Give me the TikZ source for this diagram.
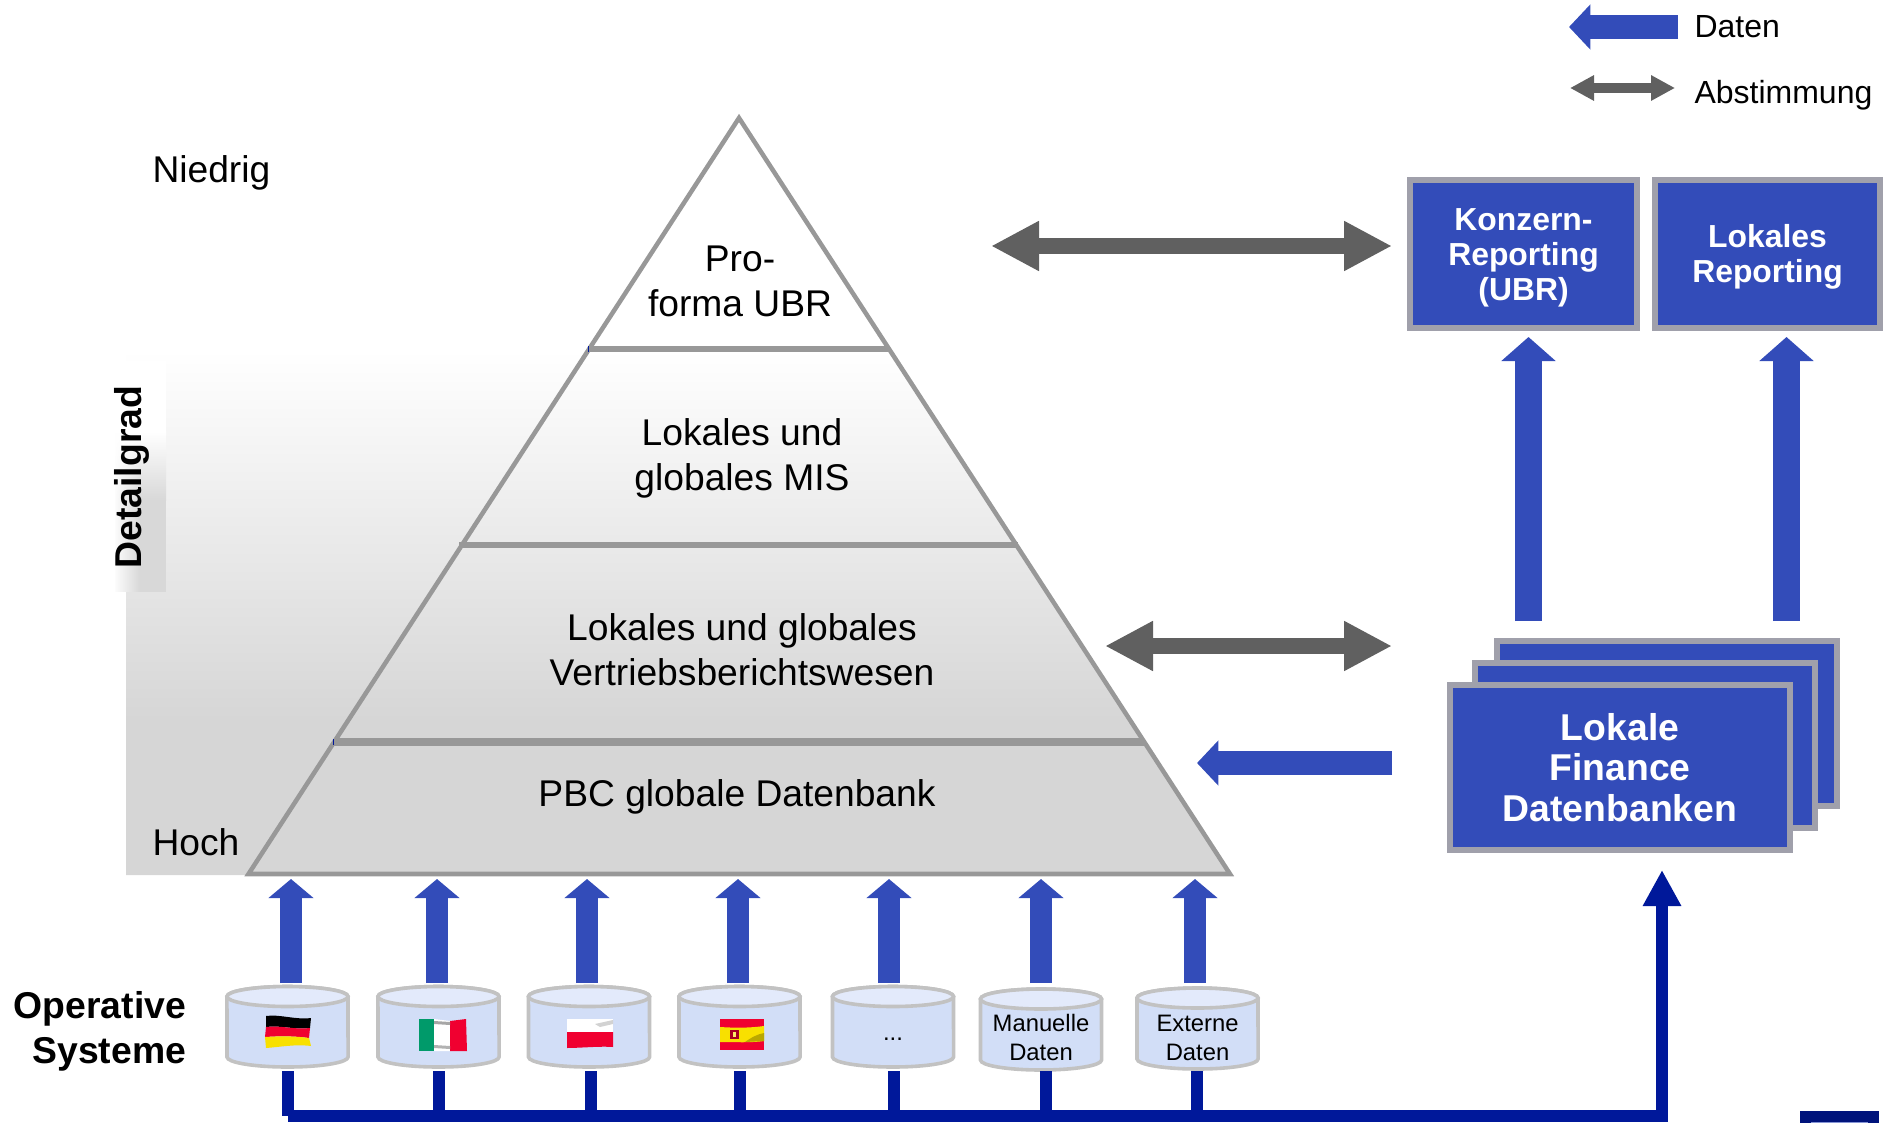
\documentclass[tikz,border=0pt]{standalone}
\usepackage{fontspec}
\setmainfont{Liberation Sans}
\usetikzlibrary{arrows.meta,fadings}
\definecolor{boxblue}{HTML}{334CB9}
\definecolor{boxgray}{HTML}{A0A0AB}
\definecolor{navyline}{HTML}{00189A}
\definecolor{arrowgray}{HTML}{606060}
\definecolor{pyrline}{HTML}{989898}
\definecolor{pyrfill}{HTML}{D6D6D6}
\definecolor{cylbody}{HTML}{D2DEF7}
\definecolor{cyltop}{HTML}{E3EAFB}
\definecolor{cylline}{HTML}{C2C2C2}
\definecolor{flagred}{HTML}{F00030}
\definecolor{flaggreen}{HTML}{009A6A}
\definecolor{flagyellow}{HTML}{F8E000}
\newcommand\topstrut[1]{\rule{0pt}{#1}}
\tikzset{
  bigfont/.style={font=\fontsize{27.9pt}{33.75pt}\selectfont},
  legendfont/.style={font=\fontsize{24pt}{28pt}\selectfont},
  tinyfont/.style={font=\fontsize{17.85pt}{21.75pt}\selectfont},
  txt/.style={inner sep=0pt,outer sep=0pt,align=center},
  repbox/.style={draw=boxgray,fill=boxblue,line width=4.5pt,text=white,align=center,inner sep=0pt,
    font=\fontsize{23.9pt}{26.3pt}\selectfont\bfseries},
  stackbox/.style={repbox,minimum width=340*.75pt,minimum height=165*.75pt,
    font=\fontsize{28pt}{30.4pt}\selectfont\bfseries},
  dataarrow/.style={draw=boxblue,line width=16.5pt,-{Triangle[length=14.25pt,width=33pt]}},
  stackarrow/.style={draw=boxblue,line width=20pt,-{Triangle[length=18pt,width=39.75pt]}},
  leftarrow/.style={draw=boxblue,line width=18pt,-{Triangle[length=16pt,width=33pt]}},
  syncarrow/.style={draw=arrowgray,line width=12pt,{Triangle[length=36pt,width=35pt]}-{Triangle[length=36pt,width=35pt]}},
  smallsync/.style={draw=arrowgray,line width=7pt,{Triangle[length=18pt,width=18pt]}-{Triangle[length=18pt,width=18pt]}},
  feed/.style={draw=navyline,line width=9pt},
}
% name, centre x, top y, bottom y, text y, text
\newcommand\dbcyl[6]{%
  \draw[cylline,line width=2.7pt,fill=cylbody]
    (#2-60.5,#4-10) arc[start angle=180,end angle=360,x radius=45.4pt,y radius=7.5pt]
    -- (#2+60.5,#3+10) arc[start angle=0,end angle=180,x radius=45.4pt,y radius=7.5pt] -- cycle;
  \draw[cylline,line width=2.7pt,fill=cyltop] (#2,#3+10) ellipse[x radius=45.4pt,y radius=7.5pt];
  \node[txt,tinyfont] (#1) at (#2,#5) {#6};
}
\begin{document}
\begin{tikzpicture}[x=.75pt,y=-.75pt]
\useasboundingbox (0,0) rectangle (1887,1123);
% gradient field behind the pyramid
\shade[top color=white,bottom color=pyrfill] (126,350) -- (889,350) -- (1130,720) -- (126,720) -- cycle;
\fill[pyrfill] (126,719.5) -- (1130,719.5) -- (1230,875) -- (126,875) -- cycle;
% lighter panel behind the vertical label
\fill[white] (115,361) rectangle (166,432);
\shade[top color=white,bottom color=pyrfill!95!white] (115,431.5) rectangle (166,500);
\fill[pyrfill!95!white] (115,499.5) rectangle (166,592);
\fill[white,path fading=east] (113,361) rectangle (140,592);
% pyramid
\draw[pyrline,line width=3.4pt,line join=miter] (739,118) -- (1230,874) -- (248.5,874) -- cycle;
\draw[pyrline,line width=4.2pt] (589,349) -- (890,349);
\draw[pyrline,line width=4.8pt] (459,545) -- (1018,545);
\draw[pyrline,line width=5.6pt] (334,742) -- (1144,742);
\fill[navyline] (587.5,346) rectangle (589,352);
\fill[navyline] (332.5,739) rectangle (334,745);
% pyramid texts
\node[txt,bigfont,anchor=base] (proforma) at (740,316) {Pro-\\forma UBR};
\node[txt,bigfont,anchor=base] (mis) at (742,490) {Lokales und\\globales MIS};
\node[txt,bigfont,anchor=base] (vertrieb) at (742,685) {Lokales und globales\\Vertriebsberichtswesen};
\node[txt,bigfont,anchor=base] (pbc) at (737,806) {PBC globale Datenbank};
\node[txt,bigfont,anchor=base west] (niedrig) at (152.5,183) {Niedrig};
\node[txt,bigfont,anchor=base west] (hoch) at (152.5,855) {Hoch};
\node[txt,anchor=base,rotate=90,font=\fontsize{28pt}{33.75pt}\selectfont\bfseries] (detail) at (141,477) {Detailgrad};
\node[txt,anchor=base east,align=right,font=\fontsize{28pt}{33.4pt}\selectfont\bfseries] (opsys) at (186,1063) {Operative\\Systeme};
% reporting boxes
\node[repbox,minimum width=227*.75pt,minimum height=148*.75pt] (ubr) at (1523.5,254) {\topstrut{21.7pt}Konzern-\\Reporting\\(UBR)};
\node[repbox,minimum width=225*.75pt,minimum height=148*.75pt] (lokrep) at (1767.5,254) {\topstrut{21.7pt}Lokales\\Reporting};
% stacked database boxes
\node[stackbox] (back) at (1667,723) {};
\node[stackbox] (mid) at (1644.5,745) {};
\node[stackbox] (front) at (1620,767.5) {Lokale\\Finance\\Datenbanken};
% coordinates for the block arrows
\coordinate (ubrin) at (1528.5,337);
\coordinate (ubrout) at (1528.5,621);
\coordinate (lokin) at (1786.5,337);
\coordinate (lokout) at (1786.5,621);
\coordinate (syncAl) at (991,246);
\coordinate (syncAr) at (1392,246);
\coordinate (syncBl) at (1105,646);
\coordinate (syncBr) at (1392,646);
\coordinate (dataL) at (1197,763);
\coordinate (dataR) at (1392,763);
\coordinate (legDl) at (1569,27);
\coordinate (legDr) at (1678,27);
\coordinate (legAl) at (1570,88);
\coordinate (legAr) at (1675,88);
\draw[stackarrow] (ubrout) -- (ubrin);
\draw[stackarrow] (lokout) -- (lokin);
\draw[syncarrow] (syncAl) -- (syncAr);
\draw[syncarrow] (syncBl) -- (syncBr);
\draw[leftarrow] (dataR) -- (dataL);
% legend
\draw[leftarrow] (legDr) -- (legDl);
\draw[smallsync] (legAl) -- (legAr);
\node[txt,legendfont,anchor=base west] (legD) at (1694.5,37.5) {Daten};
\node[txt,legendfont,anchor=base west] (legA) at (1694.5,103.5) {Abstimmung};
% operative systems
\dbcyl{cA}{287.5}{986.5}{1067}{1033}{}
\dbcyl{cB}{438.5}{986.5}{1067}{1033}{}
\dbcyl{cC}{589}{986.5}{1067}{1033}{}
\dbcyl{cD}{739.5}{986.5}{1067}{1033}{}
\dbcyl{cE}{893}{986.5}{1067}{1039}{...}
\dbcyl{cF}{1041}{989}{1070}{1037.5}{Manuelle\\Daten}
\dbcyl{cG}{1197.5}{988}{1069}{1038}{Externe\\Daten}
% arrows up into the pyramid
\foreach \n/\x/\y in {1/291/983,2/437/983,3/587/983,4/738/983,5/889/983,6/1041/983,7/1195/983}{
  \coordinate (up\n) at (\x,879);
  \coordinate (down\n) at (\x,\y);
  \draw[dataarrow] (down\n) -- (up\n);
}
% feed bus
\coordinate (busA) at (288,1116);
\coordinate (busR) at (1662,1116);
\coordinate (busTip) at (1662,870);
\foreach \n/\x in {1/288,2/439,3/591,4/740,5/894,6/1046,7/1196.5}{
  \coordinate (st\n) at (\x,1071);
  \coordinate (bt\n) at (\x,1116);
  \draw[feed] (st\n) -- (bt\n);
}
\draw[feed,-{Triangle[length=27pt,width=27pt]}] (busA) -- (busR) -- (busTip);
% small fragment bottom right
\fill[navyline!80!black] (1800,1111) rectangle (1879,1123);
\fill[boxblue!60] (1811,1122) rectangle (1868,1123);
% flags
\begin{scope}
  \fill[black] (266,1016) .. controls (280,1014) and (295,1020) .. (311,1018) -- (310,1028) .. controls (295,1030) and (280,1025) .. (266,1027) -- cycle;
  \fill[flagred] (266,1027) .. controls (280,1025) and (295,1030) .. (310,1028) -- (309,1038) .. controls (295,1036) and (280,1036) .. (265,1037) -- cycle;
  \fill[flagyellow] (265,1037) .. controls (280,1036) and (295,1036) .. (309,1038) -- (311,1046) .. controls (295,1044) and (280,1047) .. (266,1048) -- cycle;
  \fill[flaggreen] (419,1019) -- (434,1019) -- (434,1051) -- (419,1051) -- cycle;
  \fill[white] (434,1019) -- (450,1021) -- (450,1051) -- (434,1051) -- cycle;
  \fill[flagred] (450,1021) -- (466,1019) -- (467,1051) -- (450,1051) -- cycle;
  \fill[gray!70] (434,1021) -- (450,1022) -- (450,1025) -- (434,1024) -- cycle;
  \fill[gray!60] (434,1045) -- (450,1046) -- (450,1049) -- (434,1048) -- cycle;
  \fill[white] (567,1019) -- (613,1019) -- (613,1032) -- (567,1032) -- cycle;
  \fill[gray!35] (595,1024) -- (613,1020) -- (613,1024) -- (600,1027) -- cycle;
  \fill[flagred] (567,1032) -- (613,1032) -- (613,1047) .. controls (600,1046) and (580,1048) .. (567,1048) -- cycle;
  \fill[flagred] (720,1019) -- (764,1019) -- (764,1050) -- (720,1050) -- cycle;
  \fill[flagyellow] (720,1027) .. controls (735,1028) and (750,1028) .. (764,1026) -- (764,1041) .. controls (750,1043) and (735,1042) .. (720,1042) -- cycle;
  \fill[flagyellow!75!black] (745,1042) .. controls (752,1037) and (758,1034) .. (764,1033) -- (764,1041) -- cycle;
  \fill[flagred!70!black] (730,1030) rectangle (739,1039);
  \fill[flagyellow!60!white] (733,1032) rectangle (736,1037);
\end{scope}
\end{tikzpicture}
\end{document}
